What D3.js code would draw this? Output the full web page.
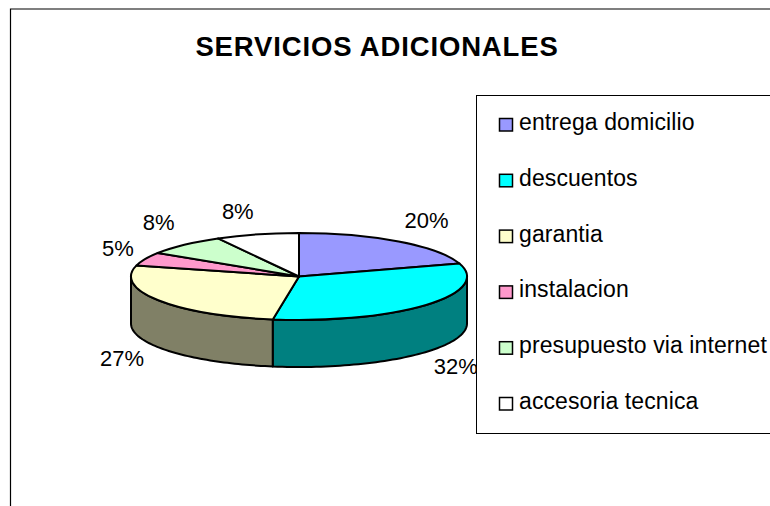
<!DOCTYPE html>
<html><head><meta charset="utf-8">
<script src="https://cdn.jsdelivr.net/npm/d3@7/dist/d3.min.js"></script>
<style>html,body{margin:0;padding:0;background:#fff}svg{display:block}text{font-family:"Liberation Sans",Arial,sans-serif;fill:#000}</style>
</head><body><svg id="c" width="770" height="506"></svg>
<script>
const title = "SERVICIOS ADICIONALES";
const categories = ["entrega domicilio","descuentos","garantia","instalacion","presupuesto via internet","accesoria tecnica"];
const values = [20.2,32.3,26.6,5.0,7.9,8.0];
const topColors = ["#9999ff","#00ffff","#ffffcc","#ff99cc","#ccffcc","#ffffff"];
const sideColors = ["#4d4d80","#008080","#808066","#804d66","#668066","#808080"];

const W=770,H=506, cx=299, cy=276.5, rx=168, ry=43.5, depth=47;
const svg=d3.select("#c");
// chart frame
svg.append("path").attr("d",`M10.5,${H}V9H${W}`).attr("fill","none").attr("stroke","#000").attr("stroke-width",1.2);
svg.append("text").attr("x",377).attr("y",55.5).attr("text-anchor","middle").attr("font-weight","bold").attr("font-size",27.5).attr("letter-spacing",0.85).text(title);

const arcs=d3.pie().sort(null).value(d=>d)(values);
const px=d3.scaleLinear().domain([-1,1]).range([cx-rx,cx+rx]);
const py=d3.scaleLinear().domain([-1,1]).range([cy-ry,cy+ry]);
const line=d3.line();
const pt=(a,dz=0)=>[px(Math.sin(a)),py(-Math.cos(a))+dz];

// side walls of the front half
arcs.forEach((d,i)=>{
  const a0=Math.max(d.startAngle,Math.PI/2), a1=Math.min(d.endAngle,Math.PI*1.5);
  if(a1<=a0) return;
  const ts=d3.range(0,61).map(k=>a0+(a1-a0)*k/60);
  const poly=[...ts.map(a=>pt(a)),...ts.slice().reverse().map(a=>pt(a,depth))];
  svg.append("path").attr("d",line(poly)+"Z").attr("fill",sideColors[i]).attr("stroke","#000").attr("stroke-width",2).attr("stroke-linejoin","round");
});
// top slices
const arcGen=d3.arc().innerRadius(0).outerRadius(1);
const g=svg.append("g").attr("transform",`translate(${cx},${cy}) scale(${rx},${ry})`);
g.selectAll("path").data(arcs).join("path").attr("d",arcGen)
 .attr("fill",(d,i)=>topColors[i]).attr("stroke","#000").attr("stroke-width",2)
 .attr("stroke-linejoin","round").attr("vector-effect","non-scaling-stroke");

// percent labels: placed on a larger ellipse, with a small per-label adjustment
const total=d3.sum(values), fmt=d3.format(".0%");
const lrx=210, lry=70;
const nudgeX=[3,-2,-1,11,3,-9], nudgeY=[0,-3,-4,0,-3,2];
svg.append("g").selectAll("text").data(arcs).join("text")
 .attr("x",(d,i)=>cx+lrx*Math.sin((d.startAngle+d.endAngle)/2)+nudgeX[i])
 .attr("y",(d,i)=>{const a=(d.startAngle+d.endAngle)/2;const c=Math.cos(a);return cy-lry*c+(c<0?depth:0)+8+nudgeY[i];})
 .attr("text-anchor","middle").attr("font-size",22).text(d=>fmt(d.data/total));

// legend
svg.append("rect").attr("x",476.5).attr("y",95.5).attr("width",W).attr("height",338).attr("fill","#fff").attr("stroke","#000").attr("stroke-width",1);
const ly=d3.scalePoint().domain(categories).range([123,402]);
const lg=svg.append("g").selectAll("g").data(categories).join("g").attr("transform",d=>`translate(0,${ly(d)})`);
lg.append("rect").attr("x",499.5).attr("y",-4.5).attr("width",13).attr("height",12.5).attr("fill",(d,i)=>topColors[i]).attr("stroke","#000").attr("stroke-width",1.5);
lg.append("text").attr("x",519).attr("y",7).attr("font-size",23).attr("letter-spacing",0.1).text(d=>d);
</script></body></html>
